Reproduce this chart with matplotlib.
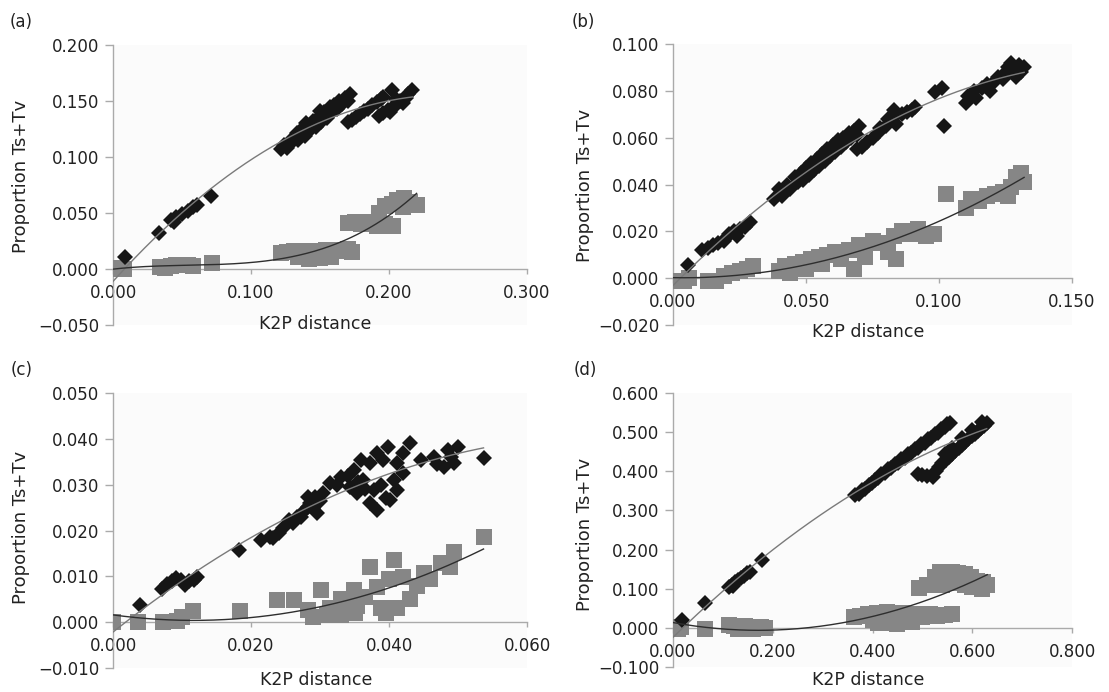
import numpy as np
import matplotlib
matplotlib.use("Agg")
import matplotlib.pyplot as plt

plt.rcParams['font.family'] = ['DejaVu Sans']

# ---------------- data ----------------
# panel (a)
a_xticks = [0.0, 0.1, 0.2, 0.3]
a_yticks = [-0.05, 0.0, 0.05, 0.10, 0.15, 0.20]
a_black = [(0.009, 0.011), (0.033, 0.032), (0.042, 0.044), (0.044, 0.042), (0.046, 0.046),
           (0.050, 0.049), (0.054, 0.052), (0.058, 0.055), (0.061, 0.057), (0.071, 0.065),
           (0.122, 0.107), (0.124, 0.111), (0.126, 0.108), (0.128, 0.114), (0.130, 0.113),
           (0.132, 0.118), (0.133, 0.121), (0.134, 0.115), (0.136, 0.121), (0.138, 0.126),
           (0.139, 0.119), (0.140, 0.130), (0.141, 0.127), (0.143, 0.124), (0.145, 0.132),
           (0.147, 0.127), (0.149, 0.136), (0.150, 0.141), (0.151, 0.131), (0.153, 0.140),
           (0.155, 0.135), (0.157, 0.145), (0.158, 0.139), (0.160, 0.146), (0.162, 0.143),
           (0.164, 0.150), (0.166, 0.147), (0.168, 0.153), (0.170, 0.150), (0.172, 0.156),
           (0.170, 0.131), (0.173, 0.133), (0.176, 0.136), (0.179, 0.138), (0.182, 0.141),
           (0.185, 0.143), (0.188, 0.146), (0.191, 0.149), (0.194, 0.152), (0.196, 0.154),
           (0.202, 0.160),
           (0.193, 0.137), (0.196, 0.139), (0.199, 0.142), (0.201, 0.140), (0.203, 0.145),
           (0.205, 0.152), (0.206, 0.147), (0.208, 0.150), (0.210, 0.148), (0.212, 0.153),
           (0.214, 0.156), (0.217, 0.160)]
a_gray = [(0.000, 0.000), (0.004, 0.001), (0.008, 0.000),
          (0.034, 0.002), (0.038, 0.001), (0.042, 0.003), (0.046, 0.004), (0.050, 0.004),
          (0.054, 0.004), (0.058, 0.003), (0.072, 0.005),
          (0.122, 0.014), (0.126, 0.015), (0.131, 0.016), (0.134, 0.011), (0.138, 0.016),
          (0.142, 0.009), (0.146, 0.016), (0.150, 0.010), (0.154, 0.017), (0.158, 0.011),
          (0.162, 0.016), (0.166, 0.017), (0.170, 0.018), (0.173, 0.015),
          (0.170, 0.041), (0.175, 0.042), (0.180, 0.040), (0.186, 0.042), (0.191, 0.038),
          (0.197, 0.040), (0.203, 0.038),
          (0.193, 0.050), (0.197, 0.056), (0.202, 0.058), (0.206, 0.062), (0.211, 0.063),
          (0.215, 0.060), (0.220, 0.057), (0.210, 0.055)]

# panel (b)
b_xticks = [0.0, 0.05, 0.10, 0.15]
b_yticks = [-0.02, 0.0, 0.02, 0.04, 0.06, 0.08, 0.10]
b_black = [(0.0056, 0.0056),
           (0.011, 0.012), (0.013, 0.013), (0.015, 0.014), (0.017, 0.015), (0.019, 0.016),
           (0.020, 0.017), (0.021, 0.019), (0.023, 0.020), (0.024, 0.018), (0.025, 0.021),
           (0.027, 0.022), (0.029, 0.024),
           (0.038, 0.034), (0.040, 0.038), (0.041, 0.035), (0.043, 0.040), (0.044, 0.038),
           (0.046, 0.043), (0.047, 0.041), (0.048, 0.045), (0.049, 0.042), (0.050, 0.047),
           (0.051, 0.044), (0.052, 0.049), (0.053, 0.046), (0.054, 0.051), (0.055, 0.048),
           (0.056, 0.053), (0.057, 0.050), (0.058, 0.055), (0.059, 0.052), (0.060, 0.057),
           (0.061, 0.054), (0.062, 0.059), (0.063, 0.056), (0.064, 0.060), (0.065, 0.058),
           (0.066, 0.062), (0.067, 0.060), (0.068, 0.063), (0.069, 0.061), (0.070, 0.065),
           (0.071, 0.056), (0.069, 0.055),
           (0.073, 0.058), (0.075, 0.060), (0.077, 0.062), (0.078, 0.064), (0.080, 0.065),
           (0.081, 0.068), (0.083, 0.069), (0.083, 0.072), (0.084, 0.066), (0.086, 0.070),
           (0.088, 0.071), (0.090, 0.072), (0.091, 0.073),
           (0.0985, 0.0795), (0.101, 0.081), (0.102, 0.065),
           (0.110, 0.075), (0.111, 0.078), (0.113, 0.080), (0.114, 0.077), (0.116, 0.081),
           (0.118, 0.083), (0.119, 0.080), (0.121, 0.084), (0.122, 0.086), (0.124, 0.085),
           (0.125, 0.088), (0.126, 0.090), (0.127, 0.092), (0.128, 0.089), (0.129, 0.086),
           (0.130, 0.091), (0.131, 0.088), (0.132, 0.090)]
b_gray = [(0.001, -0.001), (0.004, -0.001), (0.006, 0.000),
          (0.013, -0.001), (0.016, -0.001), (0.019, 0.001), (0.022, 0.002), (0.025, 0.003),
          (0.028, 0.004), (0.030, 0.005),
          (0.040, 0.003), (0.042, 0.005), (0.044, 0.002), (0.046, 0.006), (0.049, 0.007),
          (0.050, 0.004), (0.052, 0.008), (0.055, 0.009), (0.056, 0.006), (0.058, 0.010),
          (0.061, 0.011), (0.063, 0.008), (0.066, 0.012), (0.068, 0.004), (0.070, 0.014),
          (0.072, 0.009), (0.075, 0.016), (0.078, 0.015), (0.081, 0.011), (0.083, 0.018),
          (0.084, 0.008), (0.086, 0.020), (0.089, 0.019), (0.092, 0.021), (0.095, 0.018),
          (0.098, 0.019),
          (0.1025, 0.036),
          (0.110, 0.030), (0.112, 0.034), (0.115, 0.033), (0.118, 0.035), (0.121, 0.036),
          (0.124, 0.037), (0.126, 0.035), (0.127, 0.039), (0.129, 0.043), (0.131, 0.045),
          (0.132, 0.041)]

# panel (c)
c_xticks = [0.0, 0.02, 0.04, 0.06]
c_yticks = [-0.01, 0.0, 0.01, 0.02, 0.03, 0.04, 0.05]
c_black = [(0.0039, 0.0037),
           (0.0071, 0.0072), (0.0078, 0.0083), (0.0085, 0.0089), (0.0092, 0.0096),
           (0.0098, 0.0091), (0.0104, 0.0082), (0.0110, 0.0090), (0.0117, 0.0093),
           (0.0122, 0.0098),
           (0.0182, 0.0158),
           (0.0215, 0.0180), (0.0228, 0.0186), (0.0232, 0.0183), (0.0240, 0.0195),
           (0.0247, 0.0205), (0.0255, 0.0222), (0.0261, 0.0216), (0.0267, 0.0229),
           (0.0272, 0.0229), (0.0275, 0.0240), (0.0282, 0.0251), (0.0282, 0.0273),
           (0.0286, 0.0260), (0.0290, 0.0250), (0.0293, 0.0273), (0.0296, 0.0238),
           (0.0300, 0.0265), (0.0305, 0.0282), (0.0315, 0.0303), (0.0325, 0.0300),
           (0.0330, 0.0317), (0.0340, 0.0320), (0.0344, 0.0295), (0.0349, 0.0332),
           (0.0354, 0.0282), (0.0355, 0.0305), (0.0359, 0.0354), (0.0363, 0.0310),
           (0.0365, 0.0290), (0.0373, 0.0260), (0.0373, 0.0347), (0.0378, 0.0288),
           (0.0383, 0.0245), (0.0383, 0.0369), (0.0388, 0.0300), (0.0392, 0.0354),
           (0.0395, 0.0270), (0.0398, 0.0382), (0.0402, 0.0266), (0.0407, 0.0310),
           (0.0412, 0.0347), (0.0412, 0.0288), (0.0421, 0.0325), (0.0421, 0.0369),
           (0.0431, 0.0391), (0.0446, 0.0354), (0.0465, 0.0361), (0.0470, 0.0345),
           (0.0479, 0.0339), (0.0485, 0.0376), (0.0490, 0.0360), (0.0494, 0.0347),
           (0.0500, 0.0382), (0.0537, 0.0358)]
c_gray = [(0.0000, 0.0000), (0.0036, 0.0000), (0.0073, 0.0000), (0.0093, 0.0002),
          (0.0100, 0.0011), (0.0116, 0.0024),
          (0.0184, 0.0024),
          (0.0238, 0.0048), (0.0262, 0.0048), (0.0282, 0.0026), (0.0290, 0.0012),
          (0.0301, 0.0070), (0.0310, 0.0015), (0.0315, 0.0030), (0.0330, 0.0015),
          (0.0330, 0.0050), (0.0349, 0.0070), (0.0350, 0.0020), (0.0354, 0.0035),
          (0.0365, 0.0055), (0.0373, 0.0120), (0.0383, 0.0076), (0.0388, 0.0030),
          (0.0395, 0.0020), (0.0400, 0.0095), (0.0407, 0.0135), (0.0412, 0.0030),
          (0.0421, 0.0098), (0.0431, 0.0050), (0.0440, 0.0080), (0.0450, 0.0107),
          (0.0460, 0.0095), (0.0475, 0.0129), (0.0489, 0.0120), (0.0494, 0.0153),
          (0.0537, 0.0186)]

# panel (d)
d_xticks = [0.0, 0.2, 0.4, 0.6, 0.8]
d_yticks = [-0.1, 0.0, 0.1, 0.2, 0.3, 0.4, 0.5, 0.6]
d_black = [(0.018, 0.020), (0.064, 0.064),
           (0.112, 0.105), (0.118, 0.110), (0.120, 0.107), (0.124, 0.116), (0.130, 0.122),
           (0.136, 0.128), (0.142, 0.133), (0.148, 0.139), (0.154, 0.143),
           (0.178, 0.173),
           (0.365, 0.339), (0.372, 0.343), (0.378, 0.352), (0.385, 0.356), (0.392, 0.366),
           (0.398, 0.369), (0.405, 0.379), (0.412, 0.382), (0.418, 0.392), (0.425, 0.395),
           (0.432, 0.405), (0.438, 0.408), (0.445, 0.418), (0.452, 0.421), (0.458, 0.431),
           (0.465, 0.434), (0.472, 0.444), (0.478, 0.447), (0.485, 0.457), (0.492, 0.460),
           (0.498, 0.470), (0.505, 0.473), (0.512, 0.483), (0.518, 0.486), (0.525, 0.496),
           (0.532, 0.499), (0.538, 0.509), (0.545, 0.512), (0.550, 0.520), (0.555, 0.523),
           (0.491, 0.393), (0.500, 0.390), (0.510, 0.388), (0.521, 0.385), (0.527, 0.400),
           (0.533, 0.412), (0.540, 0.420), (0.547, 0.428), (0.545, 0.445), (0.553, 0.437),
           (0.560, 0.445), (0.560, 0.460), (0.566, 0.452), (0.573, 0.460), (0.579, 0.467),
           (0.580, 0.485), (0.586, 0.474), (0.592, 0.482), (0.599, 0.489), (0.600, 0.505),
           (0.605, 0.496), (0.612, 0.503), (0.618, 0.510), (0.620, 0.525), (0.624, 0.516),
           (0.629, 0.523)]
d_gray = [(0.002, 0.002), (0.010, -0.003), (0.016, 0.001),
          (0.064, -0.003),
          (0.112, 0.008), (0.122, 0.006), (0.130, -0.003), (0.134, 0.003), (0.144, 0.005),
          (0.154, 0.003), (0.160, -0.004), (0.166, 0.002), (0.176, 0.001), (0.184, 0.000),
          (0.363, 0.028), (0.375, 0.030), (0.390, 0.035), (0.400, 0.020), (0.410, 0.038),
          (0.412, 0.012), (0.420, 0.012), (0.430, 0.040), (0.440, 0.025), (0.450, 0.010),
          (0.460, 0.038), (0.470, 0.030), (0.480, 0.015), (0.490, 0.036), (0.500, 0.028),
          (0.515, 0.035), (0.530, 0.030), (0.545, 0.032), (0.560, 0.035),
          (0.493, 0.102), (0.510, 0.110), (0.525, 0.130), (0.535, 0.143), (0.548, 0.140),
          (0.560, 0.143), (0.572, 0.141), (0.585, 0.138), (0.598, 0.130), (0.610, 0.120),
          (0.622, 0.118), (0.630, 0.110), (0.620, 0.100), (0.600, 0.105), (0.585, 0.110),
          (0.560, 0.115), (0.540, 0.110), (0.545, 0.125), (0.575, 0.125)]

panel_letters = ['(a)', '(b)', '(c)', '(d)']
x_label = 'K2P distance'
y_label = 'Proportion Ts+Tv'

# ---------------- layout (pixels) ----------------
W, H = 1109, 692
fig = plt.figure(figsize=(W / 100, H / 100), dpi=100)
fig.patch.set_facecolor('white')


def rect(l, r, t, b):
    return [l / W, 1 - b / H, (r - l) / W, (b - t) / H]


def fpos(px, py):
    return px / W, 1 - py / H


panels = [
    dict(rect=(113, 527, 45, 325), xlim=(0, 0.3), ylim=(-0.05, 0.2),
         xt=a_xticks, yt=a_yticks, black=a_black, gray=a_gray, deg=(2, 3),
         let=(21, 22), ylab=(21, 176), xlab=(315, 324)),
    dict(rect=(673, 1072, 44, 325), xlim=(0, 0.15), ylim=(-0.02, 0.1),
         xt=b_xticks, yt=b_yticks, black=b_black, gray=b_gray, deg=(2, 2),
         let=(583, 22), ylab=(585, 185), xlab=(868, 332)),
    dict(rect=(113, 527, 393, 668), xlim=(0, 0.06), ylim=(-0.01, 0.05),
         xt=c_xticks, yt=c_yticks, black=c_black, gray=c_gray, deg=(2, 2),
         let=(22, 370), ylab=(21, 527), xlab=(316, 680)),
    dict(rect=(673, 1072, 393, 667), xlim=(0, 0.8), ylim=(-0.1, 0.6),
         xt=d_xticks, yt=d_yticks, black=d_black, gray=d_gray, deg=(2, 2),
         let=(585, 370), ylab=(585, 534), xlab=(868, 680)),
]

axis_col = '#aaaaaa'
text_col = '#222222'


def fmt(v):
    return f'{v:.3f}'.replace('-', '\u2212')


for p, letter in zip(panels, panel_letters):
    ax = fig.add_axes(rect(*p['rect']))
    ax.set_facecolor('#fbfbfb')
    ax.set_xlim(*p['xlim'])
    ax.set_ylim(*p['ylim'])
    for s in ['top', 'right']:
        ax.spines[s].set_visible(False)
    ax.spines['bottom'].set_position(('data', 0))
    ax.spines['left'].set_position(('data', 0))
    for s in ['bottom', 'left']:
        ax.spines[s].set_color(axis_col)
        ax.spines[s].set_linewidth(1.0)
    ax.set_xticks(p['xt'])
    ax.set_xticklabels([fmt(v) for v in p['xt']])
    ax.set_yticks(p['yt'])
    ax.set_yticklabels([fmt(v) for v in p['yt']])
    ax.tick_params(axis='both', colors=axis_col, labelcolor=text_col,
                   labelsize=12, width=1.0)
    ax.tick_params(axis='y', direction='out', length=5.5, pad=4.5)
    ax.tick_params(axis='x', direction='out', length=3.6, pad=7)

    gx, gy = zip(*p['gray'])
    bx, by = zip(*p['black'])
    gx, gy, bx, by = map(np.array, (gx, gy, bx, by))

    ax.plot(gx, gy, ls='none', marker='s', ms=11, mew=0, color='#868686', zorder=3)
    ax.plot(bx, by, ls='none', marker='D', ms=7.8, mew=0, color='#161616', zorder=3.1)

    db, dg = p['deg']
    xs = np.linspace(0, bx.max(), 200)
    ax.plot(xs, np.polyval(np.polyfit(bx, by, db), xs), color='#7a7a7a', lw=1.0, zorder=4)
    xs = np.linspace(0, gx.max(), 200)
    ax.plot(xs, np.polyval(np.polyfit(gx, gy, dg), xs), color='#2e2e2e', lw=1.0, zorder=4)

    fig.text(*fpos(*p['let']), letter, ha='center', va='center', fontsize=12, color=text_col)
    fig.text(*fpos(*p['ylab']), y_label, rotation=90, ha='center', va='center',
             fontsize=13, color=text_col)
    fig.text(*fpos(*p['xlab']), x_label, ha='center', va='center', fontsize=12.5,
             color=text_col)

fig.savefig('out.png', dpi=100)
